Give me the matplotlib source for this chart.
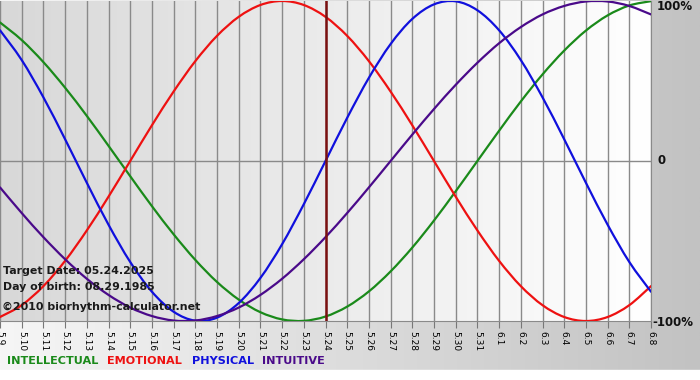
import numpy as np
import matplotlib
matplotlib.use('Agg')
import matplotlib.pyplot as plt
from matplotlib.colors import LinearSegmentedColormap
from matplotlib.path import Path
from matplotlib.patches import PathPatch

# days shown on the x axis (5.9 .. 6.8), target day is 5.24
days = ['5.9', '5.10', '5.11', '5.12', '5.13', '5.14', '5.15', '5.16', '5.17', '5.18',
        '5.19', '5.20', '5.21', '5.22', '5.23', '5.24', '5.25', '5.26', '5.27', '5.28',
        '5.29', '5.30', '5.31', '6.1', '6.2', '6.3', '6.4', '6.5', '6.6', '6.7', '6.8']
target_idx = 15

# percent values, one per day
intellectual = [86.6, 75.6, 61.8, 45.8, 28.2, 9.5, -9.5, -28.2, -45.8, -61.8,
                -75.6, -86.6, -94.5, -99.0, -99.9, -97.2, -91.0, -81.5, -69.0, -54.1,
                -37.2, -18.9, 0.0, 18.9, 37.2, 54.1, 69.0, 81.5, 91.0, 97.2, 99.9]
emotional = [-97.5, -90.1, -78.2, -62.4, -43.4, -22.3, 0.0, 22.3, 43.4, 62.4,
             78.2, 90.1, 97.5, 100.0, 97.5, 90.1, 78.2, 62.4, 43.4, 22.3,
             0.0, -22.3, -43.4, -62.4, -78.2, -90.1, -97.5, -100.0, -97.5, -90.1, -78.2]
physical = [81.7, 63.1, 39.8, 13.6, -13.6, -39.8, -63.1, -81.7, -94.2, -99.8,
            -97.9, -88.8, -73.1, -52.0, -27.0, 0.0, 27.0, 52.0, 73.1, 88.8,
            97.9, 99.8, 94.2, 81.7, 63.1, 39.8, 13.6, -13.6, -39.8, -63.1, -81.7]
intuitive = [-16.5, -32.5, -47.6, -61.4, -73.6, -83.7, -91.6, -96.9, -99.7, -99.7,
             -96.9, -91.6, -83.7, -73.6, -61.4, -47.6, -32.5, -16.5, 0.0, 16.5,
             32.5, 47.6, 61.4, 73.6, 83.7, 91.6, 96.9, 99.7, 99.7, 96.9, 91.6]

series = [('INTELLECTUAL', intellectual, '#1a8a1a'),
          ('EMOTIONAL', emotional, '#ee1111'),
          ('PHYSICAL', physical, '#1010dd'),
          ('INTUITIVE', intuitive, '#4a0a8a')]


def smooth_path(xs, ys):
    # cardinal (catmull-rom) bezier path through the daily points
    xs = np.asarray(xs, float)
    ys = np.asarray(ys, float)
    verts = [(xs[0], ys[0])]
    codes = [Path.MOVETO]
    n = len(xs)
    for i in range(n - 1):
        x0, y0 = (xs[i - 1], ys[i - 1]) if i > 0 else (xs[i], ys[i])
        x3, y3 = (xs[i + 2], ys[i + 2]) if i + 2 < n else (xs[i + 1], ys[i + 1])
        c1 = (xs[i] + (xs[i + 1] - x0) / 6, ys[i] + (ys[i + 1] - y0) / 6)
        c2 = (xs[i + 1] - (x3 - xs[i]) / 6, ys[i + 1] - (y3 - ys[i]) / 6)
        verts += [c1, c2, (xs[i + 1], ys[i + 1])]
        codes += [Path.CURVE4] * 3
    return Path(verts, codes)


W, H = 700, 380
fig = plt.figure(figsize=(7, 3.8), dpi=100)

# figure background: horizontal grey gradient, white strip at the bottom
bg = fig.add_axes([0, 0, 1, 1])
bg_cmap = LinearSegmentedColormap.from_list('bg', ['#f6f6f6', '#c2c2c2'])
bg.imshow(np.tile(np.linspace(0, 1, 256), (2, 1)), cmap=bg_cmap, aspect='auto',
          extent=[0, 1, 10 / H, 1])
bg.axhspan(0, 10 / H, color='white')
bg.set_xlim(0, 1)
bg.set_ylim(0, 1)
bg.axis('off')

x = np.arange(len(days))
ax = fig.add_axes([0, 1 - 321 / H, 651 / W, 320 / H])
ax_cmap = LinearSegmentedColormap.from_list('plot', ['#d8d8d8', '#ffffff'])
ax.imshow(np.tile(np.linspace(0, 1, 256), (2, 1)), cmap=ax_cmap, aspect='auto',
          extent=[0, len(days) - 1, -100, 100], zorder=0)

for xi in x:
    ax.axvline(xi, color='#8a8a8a', lw=1.0, zorder=1)
ax.axhline(0, color='#8a8a8a', lw=1.0, zorder=1)

for name, vals, col in series:
    ax.add_patch(PathPatch(smooth_path(x, vals), facecolor='none', edgecolor=col,
                           lw=1.6, zorder=3, capstyle='round'))

ax.axvline(target_idx, color='#7a1010', lw=1.8, zorder=4)

ax.set_xlim(0, len(days) - 1)
ax.set_ylim(-100, 100)
ax.set_xticks(x)
ax.set_xticklabels(days, rotation=270, fontsize=6.5, family='DejaVu Sans')
ax.tick_params(axis='x', length=5, color='#777777', pad=2)
ax.set_yticks([])
for s in ['top', 'left']:
    ax.spines[s].set_visible(False)
for s in ['bottom', 'right']:
    ax.spines[s].set_color('#8a8a8a')

# right side percent labels
bold = dict(fontsize=8.5, fontweight='bold', color='#111111', family='DejaVu Sans', va='center')
fig.text(657 / W, 1 - 7 / H, '100%', **bold)
fig.text(658 / W, 1 - 161 / H, '0', **bold)
fig.text(652 / W, 1 - 322 / H, '-100%', **bold)

# info text inside the plot
info = dict(fontsize=7.9, fontweight='bold', color='#1a1a1a', family='DejaVu Sans', va='center')
fig.text(3 / W, 1 - 271 / H, 'Target Date: 05.24.2025', **info)
fig.text(3 / W, 1 - 287 / H, 'Day of birth: 08.29.1985', **info)
fig.text(2 / W, 1 - 307 / H, '\u00a92010 biorhythm-calculator.net', **info)

# legend as coloured words
leg_x = [7, 107, 192, 262]
for (name, vals, col), lx in zip(series, leg_x):
    fig.text(lx / W, 1 - 361 / H, name, fontsize=8.1, fontweight='bold', color=col,
             family='DejaVu Sans', va='center')

fig.savefig('out.png', dpi=100)
